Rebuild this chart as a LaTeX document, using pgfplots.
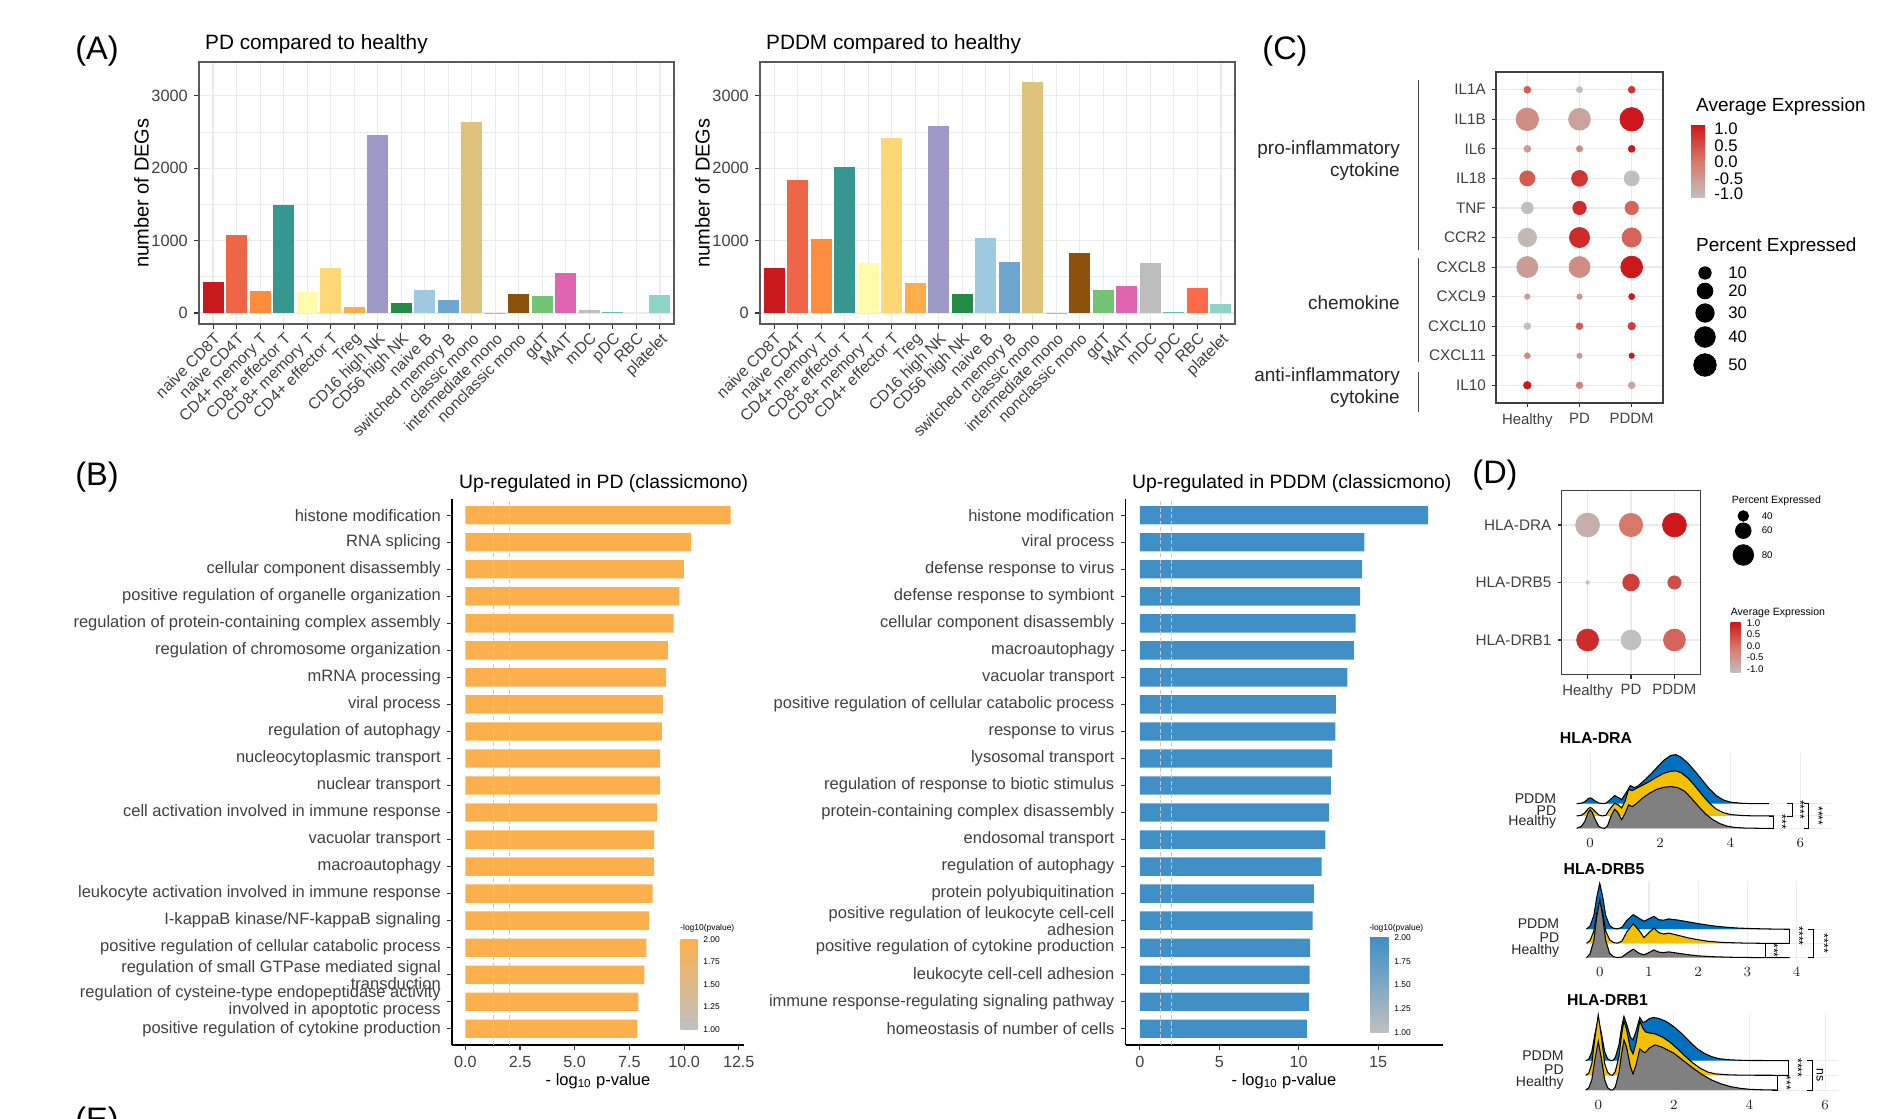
\documentclass[border=0pt]{standalone}
\usepackage{fontspec}
\setmainfont{Liberation Sans}
\usepackage{pgfplots}
\pgfplotsset{compat=1.18}
\usepackage{pgfplotstable}

\definecolor{gridc}{RGB}{235,235,235}
\definecolor{c1}{HTML}{C8191E}
\definecolor{c2}{HTML}{EF6548}
\definecolor{c3}{HTML}{FD8D3C}
\definecolor{c4}{HTML}{35978F}
\definecolor{c5}{HTML}{FFFCAD}
\definecolor{c6}{HTML}{FED876}
\definecolor{c7}{HTML}{FDAE4B}
\definecolor{c8}{HTML}{9E9AC8}
\definecolor{c9}{HTML}{238B45}
\definecolor{c10}{HTML}{9ECAE1}
\definecolor{c11}{HTML}{6FA6CF}
\definecolor{c12}{HTML}{DFC27D}
\definecolor{c13}{HTML}{F4A582}
\definecolor{c14}{HTML}{8C510A}
\definecolor{c15}{HTML}{74C476}
\definecolor{c16}{HTML}{DF65B0}
\definecolor{c17}{HTML}{BDBDBD}
\definecolor{c18}{HTML}{66C2A4}
\definecolor{c19}{HTML}{FC6A4A}
\definecolor{c20}{HTML}{8DD3C7}
\definecolor{orB}{HTML}{FBB04D}
\definecolor{blB}{HTML}{408FC6}
\definecolor{dashc}{RGB}{200,200,200}
\definecolor{cbg}{RGB}{192,192,192}
\definecolor{cbm}{RGB}{215,120,105}
\definecolor{cbr}{RGB}{204,24,28}
\definecolor{rblue}{HTML}{0070C0}
\definecolor{rgold}{HTML}{F2C000}
\definecolor{rgrey}{HTML}{808080}

\newcommand{\fsz}[2]{\fontsize{#1}{#2}\selectfont}
\newcommand{\cbar}[3]{\addplot[ybar, bar width=0.9, bar shift=0pt, fill=#3, draw=none] coordinates {(#1,#2)};}

\pgfplotsset{colormap={gr}{rgb255=(192,192,192) rgb255=(215,120,105) rgb255=(204,24,28)}}

\pgfplotsset{
  Abar/.style={scale only axis, width=9.5cm, height=5.24cm, anchor=north west,
    xmin=0.4, xmax=20.6, ymin=-152, ymax=3465,
    xtick={1,...,20},
    xticklabels={naive CD8T,naive CD4T,CD4+ memory T,CD8+ effector T,CD8+ memory T,CD4+ effector T,Treg,CD16 high NK,CD56 high NK,naive B,switched memory B,classic mono,intermediate mono,nonclassic mono,gdT,MAIT,mDC,pDC,RBC,platelet},
    ytick={0,1000,2000,3000}, yticklabels={0,1000,2000,3000},
    minor ytick={500,1500,2500},
    xmajorgrids, ymajorgrids, yminorgrids,
    major grid style={draw=gridc, line width=0.7pt},
    minor grid style={draw=gridc, line width=0.4pt},
    axis line style={draw=black!65, line width=0.7pt},
    tick pos=left, tick align=outside,
    major tick length=0.1cm, minor tick length=0pt,
    tick style={draw=black!80, line width=0.6pt},
    xticklabel style={rotate=45, anchor=north east, font=\fsz{9}{10}, text=black!75, inner sep=1pt},
    yticklabel style={font=\fsz{9.3}{10}, text=black!75},
  },
  Bbar/.style={scale only axis, height=10.92cm, anchor=north west,
    ymin=0.4, ymax=20.6, ytick={1,...,20},
    axis x line*=bottom, axis y line*=left,
    axis line style={draw=black, line width=0.8pt},
    tick align=outside, major tick length=0.1cm,
    tick style={draw=black!80, line width=0.6pt},
    yticklabel style={font=\fsz{9.4}{6.2}, text=black!75, align=right},
    xticklabel style={font=\fsz{9.2}{10}, text=black!75},
  },
  dotax/.style={scale only axis, anchor=north west,
    xmin=0.4, xmax=3.6, xtick={1,2,3}, xticklabels={Healthy,PD,PDDM},
    grid=major, grid style={draw=gridc, line width=0.7pt},
    tick pos=left, tick align=outside, major tick length=0.08cm,
    tick style={draw=black!80, line width=0.6pt},
    axis line style={draw=black!75, line width=0.7pt},
    colormap name=gr, point meta min=-1, point meta max=1, clip=false,
  },
  ridge/.style={scale only axis, anchor=south west, ymin=0.9,
    ytick={1,2,3}, yticklabels={Healthy,PD,PDDM},
    xmajorgrids, ymajorgrids, grid style={draw=gridc, line width=0.6pt},
    axis line style={draw=none}, major tick length=0pt,
    yticklabel style={anchor=south east, inner sep=0pt, font=\fsz{8}{9}, text=black!85},
    xticklabel style={font=\fsz{8}{9}, text=black!85},
    clip=false,
  },
  rfill/.style={draw=none, fill=#1},
  rline/.style={draw=black, line width=0.6pt},
  brk/.style={draw=black, line width=0.5pt},
}

% ---------------- ridge density tables (x, baseline + density) ----------------
\pgfplotstableread{
x y
-0.38 1
-0.25 1.15
-0.15 1.55
-0.05 2.3
0 2.5
0.05 2.35
0.15 1.7
0.25 1.15
0.35 1.01
0.42 1.0
0.5 1.2
0.6 2.0
0.7 2.55
0.8 2.25
0.9 1.7
1.0 2.2
1.1 2.9
1.2 2.75
1.3 2.95
1.5 3.45
1.7 3.85
1.9 4.15
2.1 4.32
2.3 4.38
2.5 4.3
2.7 4.0
2.9 3.4
3.1 2.75
3.3 2.15
3.5 1.7
3.7 1.38
3.9 1.18
4.1 1.08
4.4 1.02
4.8 1.0
5.24 1
}\draH
\pgfplotstableread{
x y
-0.38 2
-0.25 2.05
-0.15 2.25
-0.05 2.6
0 2.68
0.05 2.62
0.15 2.35
0.25 2.08
0.35 2.0
0.45 2.05
0.55 2.5
0.7 3.03
0.8 2.9
0.9 2.65
1.0 3.2
1.1 4.15
1.2 4.05
1.3 4.2
1.5 4.5
1.7 4.8
1.9 5.15
2.1 5.45
2.3 5.62
2.45 5.65
2.6 5.5
2.8 5.05
3.0 4.4
3.2 3.7
3.4 3.05
3.6 2.55
3.8 2.27
4.0 2.12
4.3 2.04
4.6 2.01
5.24 2
}\draP
\pgfplotstableread{
x y
-0.38 3
-0.25 3.03
-0.15 3.15
-0.05 3.4
0 3.46
0.05 3.42
0.15 3.2
0.25 3.05
0.35 3.0
0.45 3.03
0.55 3.25
0.7 3.65
0.8 3.5
0.9 3.32
1.0 3.75
1.15 4.46
1.25 4.3
1.35 4.4
1.5 4.75
1.7 5.3
1.9 5.9
2.1 6.5
2.3 6.9
2.45 6.97
2.6 6.75
2.8 6.25
3.0 5.6
3.2 4.9
3.4 4.2
3.6 3.65
3.8 3.3
4.0 3.12
4.3 3.03
4.6 3.0
5.1 3
}\draD
\pgfplotstableread{
x y
-0.27 1
-0.2 1.25
-0.12 2.2
-0.06 3.9
0 5.07
0.06 3.9
0.12 2.2
0.2 1.3
0.28 1.06
0.36 1.0
0.45 1.04
0.55 1.3
0.68 1.59
0.8 1.3
0.9 1.19
1.0 1.35
1.1 1.54
1.2 1.38
1.3 1.35
1.4 1.4
1.6 1.3
1.8 1.2
2.0 1.12
2.3 1.06
2.7 1.02
3.2 1.0
3.86 1
}\drfH
\pgfplotstableread{
x y
-0.27 2
-0.2 2.18
-0.12 2.87
-0.06 4.1
0 4.94
0.06 4.1
0.12 2.87
0.2 2.25
0.28 2.05
0.36 2.01
0.45 2.15
0.55 2.8
0.68 3.36
0.8 2.9
0.9 2.4
1.0 2.75
1.1 3.06
1.2 2.75
1.3 2.65
1.4 2.72
1.6 2.55
1.8 2.38
2.0 2.25
2.2 2.14
2.5 2.06
2.9 2.02
3.3 2.0
3.86 2
}\drfP
\pgfplotstableread{
x y
-0.27 3
-0.2 3.2
-0.12 3.95
-0.06 5.25
0 6.2
0.06 5.25
0.12 3.95
0.2 3.25
0.28 3.05
0.36 3.01
0.45 3.12
0.55 3.6
0.68 4.01
0.8 3.75
0.9 3.55
1.0 3.72
1.1 3.89
1.2 3.65
1.3 3.62
1.4 3.71
1.6 3.62
1.8 3.5
2.0 3.38
2.2 3.27
2.4 3.18
2.6 3.12
2.8 3.07
3.1 3.03
3.5 3.0
3.86 3
}\drfD
\pgfplotstableread{
x y
-0.33 1
-0.25 1.15
-0.17 1.7
-0.08 3.2
0 4.3
0.08 3.2
0.17 1.7
0.25 1.15
0.32 1.02
0.38 1.0
0.45 1.2
0.55 2.2
0.62 3.5
0.68 4.4
0.75 3.9
0.85 2.6
0.92 2.1
1.0 2.7
1.1 3.8
1.18 3.6
1.25 3.55
1.35 3.85
1.5 4.07
1.7 3.9
2.0 3.5
2.25 3.0
2.5 2.5
2.75 2.05
3.0 1.68
3.25 1.42
3.5 1.23
3.75 1.12
4.0 1.05
4.3 1.02
4.73 1
}\drbH
\pgfplotstableread{
x y
-0.33 2
-0.25 2.15
-0.17 2.8
-0.08 4.7
0 6.1
0.08 4.7
0.17 2.8
0.25 2.2
0.32 2.03
0.38 2.0
0.45 2.25
0.55 3.3
0.62 4.8
0.68 5.7
0.75 5.1
0.85 3.8
0.92 3.45
1.0 4.2
1.1 5.68
1.18 5.2
1.25 4.95
1.35 4.88
1.5 4.82
1.7 4.6
1.9 4.25
2.1 3.8
2.3 3.3
2.5 2.85
2.7 2.48
2.9 2.22
3.1 2.1
3.4 2.04
3.8 2.01
5.04 2
}\drbP
\pgfplotstableread{
x y
-0.33 3
-0.25 3.1
-0.17 3.6
-0.08 4.9
0 5.8
0.08 4.9
0.17 3.6
0.25 3.12
0.32 3.02
0.38 3.0
0.45 3.2
0.55 4.1
0.62 5.3
0.68 6.0
0.75 5.5
0.85 4.6
0.92 4.4
1.0 5.0
1.1 5.93
1.18 5.6
1.25 5.65
1.35 5.85
1.45 5.93
1.6 5.87
1.8 5.66
2.0 5.3
2.2 4.86
2.4 4.35
2.6 3.84
2.8 3.5
3.0 3.27
3.2 3.13
3.5 3.05
3.9 3.01
5.04 3
}\drbD

\begin{document}
\begin{tikzpicture}
\path[use as bounding box] (0,0) rectangle (37.92,-22.36);

% ================= Panel A =================
\node[font=\fsz{18.5}{20}] at (1.94,-1.02) {(A)};
\node[font=\fsz{11.8}{13}, anchor=base west] at (3.98,-0.99) {PD compared to healthy};
\node[font=\fsz{11.8}{13}, anchor=base west] at (15.2,-0.99) {PDDM compared to healthy};
\node[font=\fsz{11.4}{13}, rotate=90] at (2.83,-3.86) {number of DEGs};
\node[font=\fsz{11.4}{13}, rotate=90] at (14.05,-3.86) {number of DEGs};

\begin{axis}[Abar, at={(3.98cm,-1.24cm)}]
\cbar{1}{428}{c1}
\cbar{2}{1072}{c2}
\cbar{3}{308}{c3}
\cbar{4}{1491}{c4}
\cbar{5}{295}{c5}
\cbar{6}{617}{c6}
\cbar{7}{83}{c7}
\cbar{8}{2453}{c8}
\cbar{9}{138}{c9}
\cbar{10}{322}{c10}
\cbar{11}{175}{c11}
\cbar{12}{2641}{c12}
\cbar{13}{5}{c13}
\cbar{14}{258}{c14}
\cbar{15}{239}{c15}
\cbar{16}{557}{c16}
\cbar{17}{41}{c17}
\cbar{18}{9}{c18}
\cbar{20}{248}{c20}
\end{axis}

\begin{axis}[Abar, at={(15.2cm,-1.24cm)}]
\cbar{1}{626}{c1}
\cbar{2}{1836}{c2}
\cbar{3}{1017}{c3}
\cbar{4}{2020}{c4}
\cbar{5}{686}{c5}
\cbar{6}{2421}{c6}
\cbar{7}{419}{c7}
\cbar{8}{2582}{c8}
\cbar{9}{262}{c9}
\cbar{10}{1035}{c10}
\cbar{11}{700}{c11}
\cbar{12}{3194}{c12}
\cbar{13}{5}{c13}
\cbar{14}{833}{c14}
\cbar{15}{322}{c15}
\cbar{16}{373}{c16}
\cbar{17}{690}{c17}
\cbar{18}{9}{c18}
\cbar{19}{341}{c19}
\cbar{20}{129}{c20}
\end{axis}

% ================= Panel C =================
\node[font=\fsz{18.5}{20}] at (25.7,-1.02) {(C)};
\draw[black!70, line width=0.8pt] (28.37,-1.6) -- (28.37,-5.0);
\draw[black!70, line width=0.8pt] (28.37,-5.16) -- (28.37,-7.24);
\draw[black!70, line width=0.8pt] (28.37,-7.44) -- (28.37,-8.24);
\node[font=\fsz{10.8}{12.5}, anchor=east, align=right, text=black!85] at (28.12,-3.22) {pro-inflammatory\\cytokine};
\node[font=\fsz{10.8}{12.5}, anchor=east, align=right, text=black!85] at (28.12,-6.06) {chemokine};
\node[font=\fsz{10.8}{12.5}, anchor=east, align=right, text=black!85] at (28.12,-7.76) {anti-inflammatory\\cytokine};

\begin{axis}[dotax, at={(29.92cm,-1.44cm)}, width=3.34cm, height=6.62cm,
  ymin=0.4, ymax=11.6, ytick={1,...,11},
  yticklabels={IL10,CXCL11,CXCL10,CXCL9,CXCL8,CCR2,TNF,IL18,IL6,IL1B,IL1A},
  yticklabel style={font=\fsz{8.7}{10}, text=black!75},
  xticklabel style={font=\fsz{8.5}{10}, text=black!75}]
\addplot[scatter, only marks, mark=*, scatter src=explicit,
  scatter/use mapped color={draw=mapped color, fill=mapped color},
  visualization depends on={1.212+0.740*sqrt(\thisrow{p}) \as \rad},
  scatter/@pre marker code/.append style={/tikz/mark size=\rad}]
  table[x=x, y=y, meta=c] {
x y p c
1 11 1.0 0.3
2 11 0.5 -1
3 11 1.0 0.7
1 10 50 -0.3
2 10 46 -0.6
3 10 55 1
1 9 1.0 -0.5
2 9 0.6 -0.3
3 9 1.0 1
1 8 17.5 0.3
2 8 20 0.7
3 8 17.5 -1
1 7 8.4 -1
2 7 12.4 0.8
3 7 12.4 0.2
1 6 30 -0.9
2 6 37.5 0.8
3 6 33.6 0.2
1 5 41.5 -0.5
2 5 41.5 -0.3
3 5 46 1
1 4 0.2 -0.5
2 4 0.2 -0.4
3 4 0.5 1
1 3 0.9 -1
2 3 0.9 0.3
3 3 1.6 0.6
1 2 0.4 -0.3
2 2 0.2 -0.5
3 2 0.2 1
1 1 1.6 1
2 1 0.9 -0.2
3 1 0.9 -0.6
};
\end{axis}

% legend C
\node[font=\fsz{10.8}{12}, anchor=west] at (33.80,-2.14) {Average Expression};
\shade[bottom color=cbg, top color=cbr, middle color=cbm] (33.82,-3.94) rectangle (34.10,-2.50);
\foreach \yy/\tt in {-2.58/1.0, -2.92/0.5, -3.24/0.0, -3.58/-0.5, -3.88/-1.0}
  \node[font=\fsz{9.5}{10}, anchor=west, inner sep=0pt] at (34.28,\yy) {\tt};
\node[font=\fsz{10.8}{12}, anchor=west] at (33.80,-4.94) {Percent Expressed};
\foreach \yy/\tt in {-5.46/10, -5.82/20, -6.26/30, -6.74/40, -7.30/50}
  \node[font=\fsz{9.5}{10}, anchor=west, inner sep=0pt] at (34.56,\yy) {\tt};

% ================= Panel B =================
\node[font=\fsz{18.5}{20}] at (1.94,-9.55) {(B)};
\node[font=\fsz{11}{13}, anchor=base west] at (9.06,-9.76) {Up-regulated in PD (classicmono)};
\node[font=\fsz{11}{13}, anchor=base west] at (22.52,-9.76) {Up-regulated in PDDM (classicmono)};
\node[font=\fsz{9.4}{11}] at (11.96,-21.62) {- log\textsubscript{10} p-value};
\node[font=\fsz{9.4}{11}] at (25.68,-21.62) {- log\textsubscript{10} p-value};

\begin{axis}[Bbar, at={(9.04cm,-9.98cm)}, width=5.84cm,
  xmin=-0.61, xmax=12.74,
  xtick={0,2.5,5,7.5,10,12.5}, xticklabels={0.0,2.5,5.0,7.5,10.0,12.5},
  yticklabels={positive regulation of cytokine production,
    {regulation of cysteine-type endopeptidase activity\\involved in apoptotic process},
    {regulation of small GTPase mediated signal\\transduction},
    positive regulation of cellular catabolic process,
    I-kappaB kinase/NF-kappaB signaling,
    leukocyte activation involved in immune response,
    macroautophagy, vacuolar transport,
    cell activation involved in immune response,
    nuclear transport, nucleocytoplasmic transport,
    regulation of autophagy, viral process, mRNA processing,
    regulation of chromosome organization,
    regulation of protein-containing complex assembly,
    positive regulation of organelle organization,
    cellular component disassembly, RNA splicing, histone modification}]
\addplot[xbar, bar width=0.68, bar shift=0pt, fill=orB, draw=none] coordinates {
(12.13,20) (10.32,19) (9.99,18) (9.79,17) (9.52,16) (9.26,15) (9.18,14) (9.03,13)
(8.99,12) (8.91,11) (8.91,10) (8.77,9) (8.63,8) (8.63,7) (8.56,6) (8.40,5)
(8.28,4) (8.18,3) (7.91,2) (7.87,1)};
\addplot[draw=dashc, line width=0.6pt, dash pattern=on 2.4pt off 1.3pt] coordinates {(1.3,0.4) (1.3,20.6)};
\addplot[draw=dashc, line width=0.6pt, dash pattern=on 2.4pt off 1.3pt] coordinates {(2,0.4) (2,20.6)};
\end{axis}

\begin{axis}[Bbar, at={(22.51cm,-9.98cm)}, width=6.34cm,
  xmin=-0.91, xmax=19.06,
  xtick={0,5,10,15}, xticklabels={0,5,10,15},
  yticklabels={homeostasis of number of cells,
    immune response-regulating signaling pathway,
    leukocyte cell-cell adhesion,
    positive regulation of cytokine production,
    {positive regulation of leukocyte cell-cell\\adhesion},
    protein polyubiquitination, regulation of autophagy, endosomal transport,
    protein-containing complex disassembly,
    regulation of response to biotic stimulus, lysosomal transport,
    response to virus, positive regulation of cellular catabolic process,
    vacuolar transport, macroautophagy, cellular component disassembly,
    defense response to symbiont, defense response to virus,
    viral process, histone modification}]
\addplot[xbar, bar width=0.68, bar shift=0pt, fill=blB, draw=none] coordinates {
(18.15,20) (14.13,19) (13.99,18) (13.87,17) (13.58,16) (13.47,15) (13.06,14) (12.34,13)
(12.31,12) (12.11,11) (12.02,10) (11.91,9) (11.68,8) (11.45,7) (10.95,6) (10.87,5)
(10.72,4) (10.69,3) (10.66,2) (10.52,1)};
\addplot[draw=dashc, line width=0.6pt, dash pattern=on 2.4pt off 1.3pt] coordinates {(1.3,0.4) (1.3,20.6)};
\addplot[draw=dashc, line width=0.6pt, dash pattern=on 2.4pt off 1.3pt] coordinates {(2,0.4) (2,20.6)};
\end{axis}

% B colourbars
\node[font=\fsz{4.8}{5}, anchor=west, inner sep=0pt] at (13.60,-18.56) {-log10(pvalue)};
\shade[top color=orB, bottom color=cbg] (13.61,-20.59) rectangle (13.95,-18.79);
\foreach \yy/\tt in {-18.79/2.00, -19.24/1.75, -19.69/1.50, -20.14/1.25, -20.59/1.00}
  \node[font=\fsz{4.8}{5}, anchor=west, inner sep=0pt] at (14.06,\yy) {\tt};
\node[font=\fsz{4.8}{5}, anchor=west, inner sep=0pt] at (27.38,-18.56) {-log10(pvalue)};
\shade[top color=blB, bottom color=cbg] (27.40,-20.65) rectangle (27.77,-18.75);
\foreach \yy/\tt in {-18.75/2.00, -19.225/1.75, -19.70/1.50, -20.175/1.25, -20.65/1.00}
  \node[font=\fsz{4.8}{5}, anchor=west, inner sep=0pt] at (27.88,\yy) {\tt};

% ================= Panel D =================
\node[font=\fsz{18.5}{20}] at (29.9,-9.5) {(D)};
\begin{axis}[dotax, at={(31.23cm,-9.81cm)}, width=2.78cm, height=3.68cm,
  ymin=0.4, ymax=3.6, ytick={1,2,3}, yticklabels={HLA-DRB1,HLA-DRB5,HLA-DRA},
  yticklabel style={font=\fsz{8.7}{10}, text=black!75},
  xticklabel style={font=\fsz{8.5}{10}, text=black!75}]
\addplot[scatter, only marks, mark=*, scatter src=explicit,
  scatter/use mapped color={draw=mapped color, fill=mapped color},
  visualization depends on={0.2+0.0711*\thisrow{p} \as \rad},
  scatter/@pre marker code/.append style={/tikz/mark size=\rad}]
  table[x=x, y=y, meta=c] {
x y p c
1 3 93 -0.75
2 3 90.6 0.0
3 3 93 1.0
1 2 13 -1.0
2 2 64 0.6
3 2 50.5 0.45
1 1 85 0.8
2 1 77 -1.0
3 1 85 0.2
};
\end{axis}
\node[font=\fsz{6}{7}, anchor=west, inner sep=0pt] at (34.63,-10.01) {Percent Expressed};
\foreach \yy/\tt in {-10.32/40, -10.61/60, -11.10/80}
  \node[font=\fsz{5.5}{6}, anchor=west, inner sep=0pt] at (35.23,\yy) {\tt};
\node[font=\fsz{6}{7}, anchor=west, inner sep=0pt] at (34.61,-12.25) {Average Expression};
\shade[bottom color=cbg, top color=cbr, middle color=cbm] (34.61,-13.45) rectangle (34.81,-12.45);
\foreach \yy/\tt in {-12.46/1.0, -12.68/0.5, -12.92/0.0, -13.15/-0.5, -13.38/-1.0}
  \node[font=\fsz{5.5}{6}, anchor=west, inner sep=0pt] at (34.93,\yy) {\tt};

% legend dots (sizes) drawn through an overlay axis in pixel units
\begin{axis}[at={(0cm,0cm)}, anchor=north west, scale only axis, width=37.92cm, height=22.36cm,
  xmin=0, xmax=1896, ymin=-1118, ymax=0, hide axis, clip=false]
\addplot[scatter, only marks, mark=*,
  scatter/use mapped color={draw=black, fill=black},
  visualization depends on={1.212+0.740*sqrt(\thisrow{p}) \as \rad},
  scatter/@pre marker code/.append style={/tikz/mark size=\rad}]
  table[x=x, y=y] {
x y p
1705 -273 10
1705 -291 20
1705 -313 30
1705 -337 40
1705 -365 50
};
\addplot[scatter, only marks, mark=*,
  scatter/use mapped color={draw=black, fill=black},
  visualization depends on={0.2+0.0711*\thisrow{p} \as \rad},
  scatter/@pre marker code/.append style={/tikz/mark size=\rad}]
  table[x=x, y=y] {
x y p
1743.3 -516 40
1743.3 -530.7 60
1743.3 -555 80
};
\end{axis}

% ---- ridge HLA-DRA ----
\node[font=\bfseries\fsz{9}{10}] at (31.92,-14.76) {HLA-DRA};
\begin{axis}[ridge, at={(31.52cm,-16.59cm)}, width=5.12cm, height=1.53cm,
  xmin=-0.4, xmax=6.9, ymax=7.1, xtick={0,2,4,6},
  yticklabel style={xshift=-0.39cm}, xticklabel style={yshift=-0.05cm}]
\addplot[rfill=rblue] table {\draD} -- cycle;
\addplot[rline] table {\draD};
\addplot[rfill=rgold] table {\draP} -- cycle;
\addplot[rline] table {\draP};
\addplot[rfill=rgrey] table {\draH} -- cycle;
\addplot[rline] table {\draH};
\addplot[brk] coordinates {(5.1,1) (5.24,1) (5.24,2) (5.1,2)};
\addplot[brk] coordinates {(5.62,2) (5.76,2) (5.76,3) (5.62,3)};
\addplot[brk] coordinates {(6.1,1) (6.24,1) (6.24,3) (6.1,3)};
\node[rotate=-90, font=\fsz{7}{7}] at (axis cs:5.48,1.5) {***};
\node[rotate=-90, font=\fsz{7}{7}] at (axis cs:6.0,2.5) {****};
\node[rotate=-90, font=\fsz{7}{7}] at (axis cs:6.52,2.0) {****};
\end{axis}

% ---- ridge HLA-DRB5 ----
\node[font=\bfseries\fsz{9}{10}] at (32.08,-17.38) {HLA-DRB5};
\begin{axis}[ridge, at={(31.70cm,-19.18cm)}, width=4.94cm, height=1.57cm,
  xmin=-0.3, xmax=4.72, ymax=6.4, xtick={0,1,2,3,4},
  yticklabel style={xshift=-0.51cm}, xticklabel style={yshift=-0.05cm}]
\addplot[rfill=rblue] table {\drfD} -- cycle;
\addplot[rline] table {\drfD};
\addplot[rfill=rgold] table {\drfP} -- cycle;
\addplot[rline] table {\drfP};
\addplot[rfill=rgrey] table {\drfH} -- cycle;
\addplot[rline] table {\drfH};
\addplot[brk] coordinates {(3.25,1) (3.36,1) (3.36,2) (3.25,2)};
\addplot[brk] coordinates {(3.75,2) (3.86,2) (3.86,3) (3.75,3)};
\addplot[brk] coordinates {(4.23,1) (4.34,1) (4.34,3) (4.23,3)};
\node[rotate=-90, font=\fsz{7}{7}] at (axis cs:3.54,1.5) {***};
\node[rotate=-90, font=\fsz{7}{7}] at (axis cs:4.05,2.5) {****};
\node[rotate=-90, font=\fsz{7}{7}] at (axis cs:4.56,2.0) {****};
\end{axis}

% ---- ridge HLA-DRB1 ----
\node[font=\bfseries\fsz{9}{10}] at (32.15,-20.0) {HLA-DRB1};
\begin{axis}[ridge, at={(31.70cm,-21.83cm)}, width=5.05cm, height=1.56cm,
  xmin=-0.35, xmax=6.33, ymax=6.2, xtick={0,2,4,6},
  yticklabel style={xshift=-0.42cm}, xticklabel style={yshift=-0.05cm}]
\addplot[rfill=rblue] table {\drbD} -- cycle;
\addplot[rline] table {\drbD};
\addplot[rfill=rgold] table {\drbP} -- cycle;
\addplot[rline] table {\drbP};
\addplot[rfill=rgrey] table {\drbH} -- cycle;
\addplot[rline] table {\drbH};
\addplot[brk] coordinates {(4.6,1) (4.73,1) (4.73,2) (4.6,2)};
\addplot[brk] coordinates {(4.9,2) (5.04,2) (5.04,3) (4.9,3)};
\addplot[brk] coordinates {(5.52,1) (5.66,1) (5.66,3) (5.52,3)};
\node[rotate=-90, font=\fsz{7}{7}] at (axis cs:4.98,1.5) {***};
\node[rotate=-90, font=\fsz{7}{7}] at (axis cs:5.28,2.5) {****};
\node[rotate=-90, font=\fsz{7}{7}] at (axis cs:5.86,2.0) {ns};
\end{axis}

% cut-off label of the next panel
\node[font=\fsz{18.5}{20}] at (1.94,-22.45) {(E)};
\end{tikzpicture}
\end{document}
